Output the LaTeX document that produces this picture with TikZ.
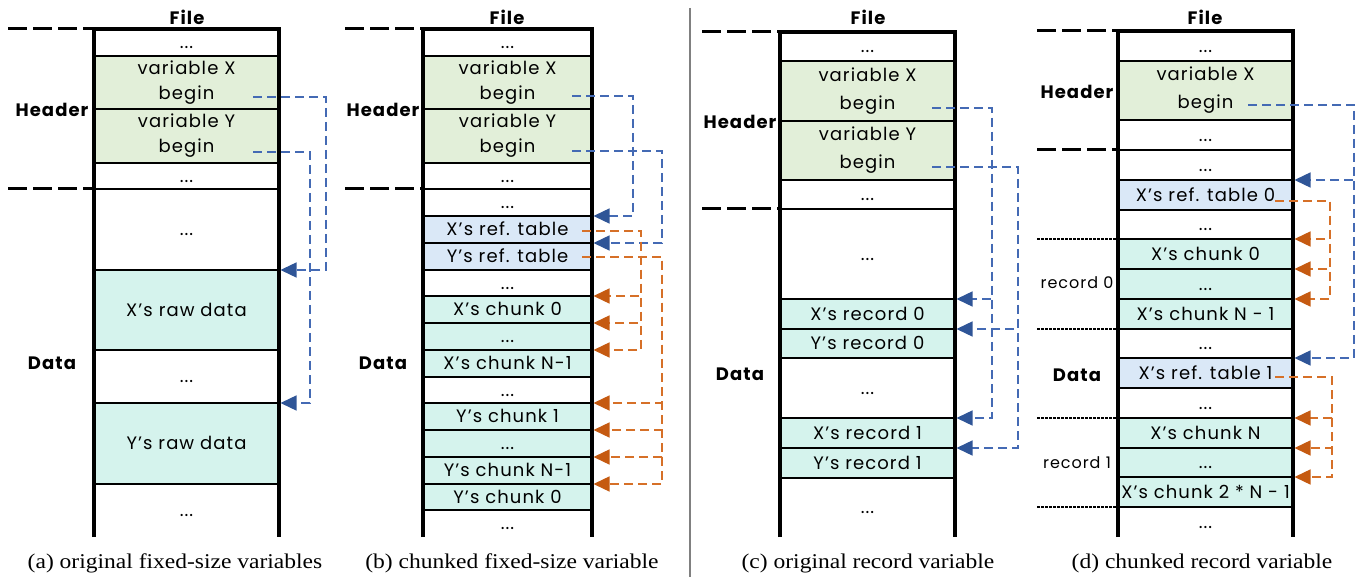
\documentclass[tikz,border=0pt]{standalone}
\usepackage{fontspec}
\setmainfont{Poppins}[LetterSpace=6]
\newfontfamily\capfont{Liberation Serif}[FakeStretch=1.12]
\newcommand\widecapfont{\fontsize{21}{24}\capfont}
\usetikzlibrary{arrows.meta,calc}

\definecolor{hdrgreen}{RGB}{226,239,217}
\definecolor{datateal}{RGB}{213,243,237}
\definecolor{refblue}{RGB}{218,232,247}
\definecolor{linkblue}{RGB}{68,106,180}
\definecolor{tipblue}{RGB}{47,85,151}
\definecolor{linkorange}{RGB}{214,112,40}
\definecolor{tiporange}{RGB}{197,90,17}
\definecolor{sepgray}{RGB}{128,128,128}

\begin{document}
\begin{tikzpicture}[x=1pt,y=-1pt,
  cell/.style={draw=black, line width=1.8pt, anchor=north west, inner sep=0pt,
    outer sep=0pt, align=center},
  one/.style={text height=12.5pt, text depth=0pt},
  plain/.style={cell, one, fill=white},
  hdr/.style={cell, fill=hdrgreen},
  dat/.style={cell, one, fill=datateal},
  reft/.style={cell, one, fill=refblue},
  open/.style={cell, one, draw=none},
  fsmall/.style={font=\fontsize{18}{25}\selectfont},
  fbig/.style={font=\fontsize{18}{28}\selectfont},
  sidelabel/.style={font=\fontsize{18}{20}\selectfont\bfseries},
  reclabel/.style={font=\fontsize{16}{20}\selectfont},
  caption/.style={font=\widecapfont},
  frame/.style={line width=3.5pt},
  hdrdash/.style={line width=3pt, dash pattern=on 19pt off 6pt},
  recdash/.style={line width=1.5pt, dash pattern=on 3pt off 1pt},
  link/.style={dash pattern=on 9pt off 5pt, line width=1.4pt, shorten >=1.5pt},
  bluelink/.style={link, draw=linkblue, -{Triangle[length=16pt,width=15pt,color=tipblue]}},
  orangelink/.style={link, draw=linkorange, -{Triangle[length=16pt,width=15pt,color=tiporange]}}
]
\useasboundingbox (0,0) rectangle (1363,577);

% ---------------- (a) original fixed-size variables ----------------
\begin{scope}[every node/.append style={fsmall}, cell/.append style={minimum width=185pt}]
\node[plain, minimum height=27pt] (a1) at (94,29) {...};
\node[hdr, minimum height=53pt] (aX) at (a1.south west) {variable X\\begin};
\node[hdr, minimum height=54pt] (aY) at (aX.south west) {variable Y\\begin};
\node[plain, minimum height=26pt] (a2) at (aY.south west) {...};
\node[plain, minimum height=81pt] (a3) at (a2.south west) {...};
\node[dat, minimum height=80pt] (aXraw) at (a3.south west) {X's raw data};
\node[plain, minimum height=53pt] (a4) at (aXraw.south west) {...};
\node[dat, minimum height=81pt] (aYraw) at (a4.south west) {Y's raw data};
\node[open, minimum height=53pt] (a5) at (aYraw.south west) {...};
\end{scope}
\draw[frame] (a5.south west) -- (a1.north west) -- (a1.north east) -- (a5.south east);
\draw[hdrdash] (a1.north west) ++(-86,0) -- (a1.north west);
\draw[hdrdash] (a3.north west) ++(-86,0) -- (a3.north west);
\node[sidelabel] (aFile) at (187,17) {File};
\node[sidelabel] (aHeader) at (52,110) {Header};
\node[sidelabel] (aData) at (52,363) {Data};
\coordinate (aXs) at ($(aX.east)+(-26,14.5)$);
\coordinate (aYs) at ($(aY.east)+(-26,16)$);
\draw[bluelink] (aXs) -- ++(73,0) |- (aXraw.north east);
\draw[bluelink] (aYs) -- ++(57,0) |- (aYraw.north east);
\node[caption] (capa) at (175,563) {(a) original fixed-size variables};

% ---------------- (b) chunked fixed-size variable ----------------
\begin{scope}[every node/.append style={fsmall}, cell/.append style={minimum width=169pt}]
\node[plain, minimum height=27pt] (b1) at (423,29) {...};
\node[hdr, minimum height=53pt] (bX) at (b1.south west) {variable X\\begin};
\node[hdr, minimum height=54pt] (bY) at (bX.south west) {variable Y\\begin};
\node[plain, minimum height=26pt] (b2) at (bY.south west) {...};
\node[plain, minimum height=27pt] (b3) at (b2.south west) {...};
\node[reft, minimum height=27pt] (bXr) at (b3.south west) {X's ref. table};
\node[reft, minimum height=27pt] (bYr) at (bXr.south west) {Y's ref. table};
\node[plain, minimum height=26pt] (b4) at (bYr.south west) {...};
\node[dat, minimum height=27pt] (bX0) at (b4.south west) {X's chunk 0};
\node[dat, minimum height=27pt] (b5) at (bX0.south west) {...};
\node[dat, minimum height=27pt] (bXn) at (b5.south west) {X's chunk N-1};
\node[plain, minimum height=26pt] (b6) at (bXn.south west) {...};
\node[dat, minimum height=27pt] (bY1) at (b6.south west) {Y's chunk 1};
\node[dat, minimum height=27pt] (b7) at (bY1.south west) {...};
\node[dat, minimum height=27pt] (bYn) at (b7.south west) {Y's chunk N-1};
\node[dat, minimum height=26pt] (bY0) at (bYn.south west) {Y's chunk 0};
\node[open, minimum height=27pt] (b8) at (bY0.south west) {...};
\end{scope}
\draw[frame] (b8.south west) -- (b1.north west) -- (b1.north east) -- (b8.south east);
\draw[hdrdash] (b1.north west) ++(-78,0) -- (b1.north west);
\draw[hdrdash] (b3.north west) ++(-78,0) -- (b3.north west);
\node[sidelabel] (bFile) at (507,17) {File};
\node[sidelabel] (bHeader) at (383,110) {Header};
\node[sidelabel] (bData) at (383,363) {Data};
\coordinate (bXs) at ($(bX.east)+(-20,13.5)$);
\coordinate (bYs) at ($(bY.east)+(-20,15)$);
\coordinate (bXrs) at ($(bXr.east)+(-10,1.5)$);
\coordinate (bYrs) at ($(bYr.east)+(-10,0.5)$);
\draw[bluelink] (bXs) -- ++(61,0) |- (bXr.north east);
\draw[bluelink] (bYs) -- ++(90,0) |- (bYr.north east);
\draw[orangelink] (bXrs) -- ++(59,0) |- (bXn.north east);
\draw[orangelink] (bXrs) -- ++(59,0) |- (b5.north east);
\draw[orangelink] (bXrs) -- ++(59,0) |- (bX0.north east);
\draw[orangelink] (bYrs) -- ++(80,0) |- (bY0.north east);
\draw[orangelink] (bYrs) -- ++(80,0) |- (bYn.north east);
\draw[orangelink] (bYrs) -- ++(80,0) |- (b7.north east);
\draw[orangelink] (bYrs) -- ++(80,0) |- (bY1.north east);
\node[caption] (capb) at (512,563) {(b) chunked fixed-size variable};

% ---------------- separator ----------------
\coordinate (septop) at (690,8);
\coordinate (sepbot) at (690,577);
\draw[sepgray, line width=2pt] (septop) -- (sepbot);

% ---------------- (c) original record variable ----------------
\begin{scope}[every node/.append style={fbig}, cell/.append style={minimum width=175pt}]
\node[plain, minimum height=29pt] (c1) at (780,32) {...};
\node[hdr, minimum height=60pt] (cX) at (c1.south west) {variable X\\begin};
\node[hdr, minimum height=59pt] (cY) at (cX.south west) {variable Y\\begin};
\node[plain, minimum height=29pt] (c2) at (cY.south west) {...};
\node[plain, minimum height=90pt] (c3) at (c2.south west) {...};
\node[dat, minimum height=30pt] (cX0) at (c3.south west) {X's record 0};
\node[dat, minimum height=29pt] (cY0) at (cX0.south west) {Y's record 0};
\node[plain, minimum height=60pt] (c4) at (cY0.south west) {...};
\node[dat, minimum height=30pt] (cX1) at (c4.south west) {X's record 1};
\node[dat, minimum height=30pt] (cY1) at (cX1.south west) {Y's record 1};
\node[open, minimum height=59pt] (c5) at (cY1.south west) {...};
\end{scope}
\draw[frame] (c5.south west) -- (c1.north west) -- (c1.north east) -- (c5.south east);
\draw[hdrdash] (c1.north west) ++(-78,0) -- (c1.north west);
\draw[hdrdash] (c3.north west) ++(-78,0) -- (c3.north west);
\node[sidelabel] (cFile) at (868,17) {File};
\node[sidelabel] (cHeader) at (740,122) {Header};
\node[sidelabel] (cData) at (740,374) {Data};
\coordinate (cXs) at ($(cX.east)+(-23,17)$);
\coordinate (cYs) at ($(cY.east)+(-23,16.5)$);
\draw[bluelink] (cXs) -- ++(60,0) |- (cX1.north east);
\draw[bluelink] (cXs) -- ++(60,0) |- (cX0.north east);
\draw[bluelink] (cYs) -- ++(86,0) |- (cY1.north east);
\draw[bluelink] (cYs) -- ++(86,0) |- (cY0.north east);
\node[caption] (capc) at (868,563) {(c) original record variable};

% ---------------- (d) chunked record variable ----------------
\begin{scope}[every node/.append style={fbig}, cell/.append style={minimum width=175pt}]
\node[plain, minimum height=30pt] (d1) at (1118,31) {...};
\node[hdr, minimum height=59pt] (dX) at (d1.south west) {variable X\\begin};
\node[plain, minimum height=30pt] (d2) at (dX.south west) {...};
\node[plain, minimum height=30pt] (d3) at (d2.south west) {...};
\node[reft, minimum height=30pt] (dR0) at (d3.south west) {X's ref. table 0};
\node[plain, minimum height=29pt] (d4) at (dR0.south west) {...};
\node[dat, minimum height=30pt] (dC0) at (d4.south west) {X's chunk 0};
\node[dat, minimum height=30pt] (d5) at (dC0.south west) {...};
\node[dat, minimum height=30pt] (dCn) at (d5.south west) {X's chunk N - 1};
\node[plain, minimum height=29pt] (d6) at (dCn.south west) {...};
\node[reft, minimum height=30pt] (dR1) at (d6.south west) {X's ref. table 1};
\node[plain, minimum height=30pt] (d7) at (dR1.south west) {...};
\node[dat, minimum height=30pt] (dCN) at (d7.south west) {X's chunk N};
\node[dat, minimum height=29pt] (d8) at (dCN.south west) {...};
\node[dat, minimum height=30pt] (dC2) at (d8.south west) {X's chunk 2 * N - 1};
\node[open, minimum height=30pt] (d9) at (dC2.south west) {...};
\end{scope}
\draw[frame] (d9.south west) -- (d1.north west) -- (d1.north east) -- (d9.south east);
\draw[hdrdash] (d1.north west) ++(-81,0) -- (d1.north west);
\draw[hdrdash] (d3.north west) ++(-81,0) -- (d3.north west);
\draw[recdash] (dC0.north west) ++(-81,0) -- (dC0.north west);
\draw[recdash] (dCn.south west) ++(-81,0) -- (dCn.south west);
\draw[recdash] (dCN.north west) ++(-81,0) -- (dCN.north west);
\draw[recdash] (dC2.south west) ++(-81,0) -- (dC2.south west);
\node[sidelabel] (dFile) at (1205,17) {File};
\node[sidelabel] (dHeader) at (1077,92) {Header};
\node[sidelabel] (dData) at (1077,375) {Data};
\node[reclabel] (drec0) at (1077,283) {record 0};
\node[reclabel] (drec1) at (1077,463) {record 1};
\coordinate (dXs) at ($(dX.east)+(-45,14.5)$);
\coordinate (dR0s) at ($(dR0.east)+(-18,6)$);
\coordinate (dR1s) at ($(dR1.east)+(-18,4)$);
\draw[bluelink] (dXs) -- ++(106,0) |- (dR1.north east);
\draw[bluelink] (dXs) -- ++(106,0) |- (dR0.north east);
\draw[orangelink] (dR0s) -- ++(55,0) |- (dCn.north east);
\draw[orangelink] (dR0s) -- ++(55,0) |- (d5.north east);
\draw[orangelink] (dR0s) -- ++(55,0) |- (dC0.north east);
\draw[orangelink] (dR1s) -- ++(57,0) |- (dC2.north east);
\draw[orangelink] (dR1s) -- ++(57,0) |- (d8.north east);
\draw[orangelink] (dR1s) -- ++(57,0) |- (dCN.north east);
\node[caption] (capd) at (1202,563) {(d) chunked record variable};
\end{tikzpicture}
\end{document}
